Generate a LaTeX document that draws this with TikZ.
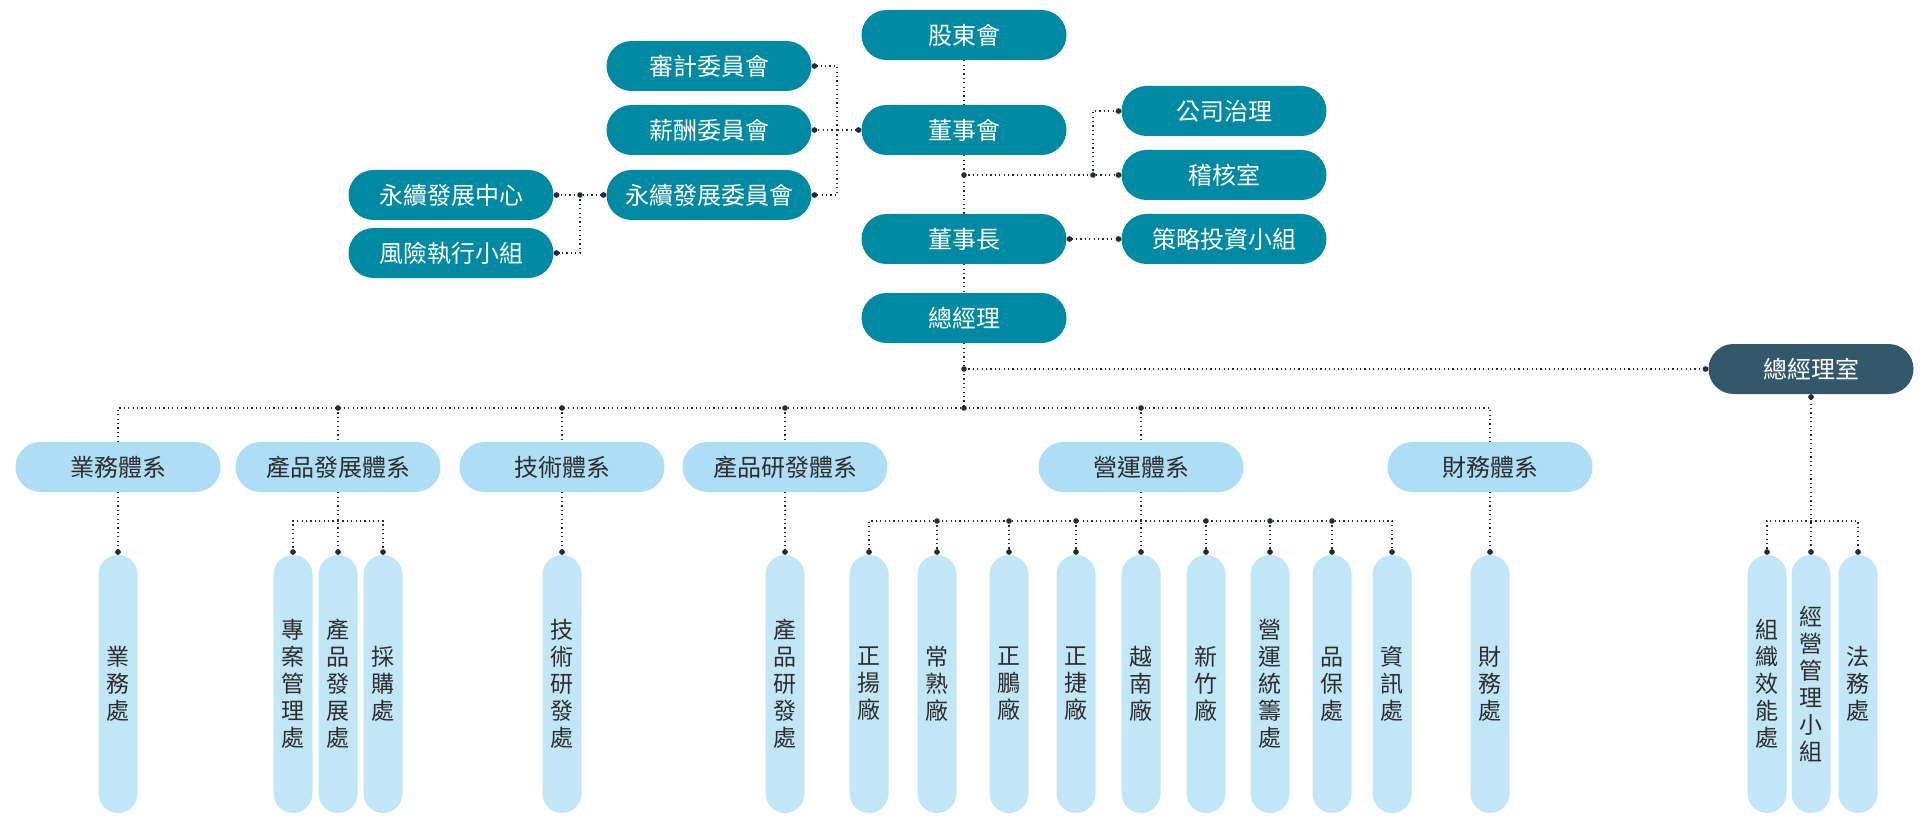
\documentclass[tikz,border=0pt]{standalone}
\usepackage{fontspec}
\usepackage{xcolor}
\usepackage{tikz}
\usetikzlibrary{arrows.meta}
\newfontfamily\tcfont{Noto Sans CJK TC}
\definecolor{tealc}{RGB}{0,137,163}
\definecolor{slatec}{RGB}{52,88,107}
\definecolor{sysc}{RGB}{174,222,245}
\definecolor{unitc}{RGB}{193,230,248}
\definecolor{textc}{RGB}{45,45,45}
\definecolor{linec}{RGB}{38,44,54}
\tikzset{
	topbox/.style={rectangle,rounded corners=25pt,fill=tealc,text=white,minimum width=205pt,minimum height=50pt,inner sep=0pt,font=\tcfont\fontsize{24}{28}\selectfont},
	officebox/.style={topbox,fill=slatec},
	sysbox/.style={topbox,fill=sysc,text=textc},
	unitbox/.style={rectangle,rounded corners=19.5pt,fill=unitc,text=textc,minimum width=39pt,minimum height=258pt,inner sep=0pt,align=center,font=\tcfont\fontsize{23}{27}\selectfont},
	link/.style={draw=linec,line width=1.3pt,dash pattern=on 1.2pt off 3.2pt},
	dotend/.style={-{Circle[length=5.6pt]}},
	dotstart/.style={{Circle[length=5.6pt]}-},
	dotboth/.style={{Circle[length=5.6pt]}-{Circle[length=5.6pt]}}
}
\begin{document}
\begin{tikzpicture}[x=1pt,y=-1pt]
	\useasboundingbox[fill=white] (0,0) rectangle (1920,829);
	\node[topbox] (gd) at (964,35) {股東會};
	\node[topbox] (ds) at (964,130) {董事會};
	\node[topbox] (dz) at (964,239) {董事長};
	\node[topbox] (gm) at (964,318) {總經理};
	\node[topbox] (au) at (709,66) {審計委員會};
	\node[topbox] (rc) at (709,130) {薪酬委員會};
	\node[topbox] (sc) at (709,195) {永續發展委員會};
	\node[topbox] (sd) at (451,195) {永續發展中心};
	\node[topbox] (rk) at (451,253) {風險執行小組};
	\node[topbox] (cg) at (1224,111) {公司治理};
	\node[topbox] (ia) at (1224,175) {稽核室};
	\node[topbox] (si) at (1224,239) {策略投資小組};
	\node[officebox] (go) at (1811,369) {總經理室};

	\node[sysbox] (s1) at (118,467) {業務體系};
	\node[sysbox] (s2) at (338,467) {產品發展體系};
	\node[sysbox] (s3) at (562,467) {技術體系};
	\node[sysbox] (s4) at (785,467) {產品研發體系};
	\node[sysbox] (s5) at (1141,467) {營運體系};
	\node[sysbox] (s6) at (1490,467) {財務體系};

	\node[unitbox] (u1) at (118,684) {業\\務\\處};
	\node[unitbox] (u2) at (293,684) {專\\案\\管\\理\\處};
	\node[unitbox] (u3) at (338,684) {產\\品\\發\\展\\處};
	\node[unitbox] (u4) at (383,684) {採\\購\\處};
	\node[unitbox] (u5) at (562,684) {技\\術\\研\\發\\處};
	\node[unitbox] (u6) at (785,684) {產\\品\\研\\發\\處};
	\node[unitbox] (o1) at (869,684) {正\\揚\\廠};
	\node[unitbox] (o2) at (937,684) {常\\熟\\廠};
	\node[unitbox] (o3) at (1009,684) {正\\鵬\\廠};
	\node[unitbox] (o4) at (1076,684) {正\\捷\\廠};
	\node[unitbox] (o5) at (1141,684) {越\\南\\廠};
	\node[unitbox] (o6) at (1206,684) {新\\竹\\廠};
	\node[unitbox] (o7) at (1270,684) {營\\運\\統\\籌\\處};
	\node[unitbox] (o8) at (1332,684) {品\\保\\處};
	\node[unitbox] (o9) at (1392,684) {資\\訊\\處};
	\node[unitbox] (u7) at (1490,684) {財\\務\\處};
	\node[unitbox] (g1) at (1767,684) {組\\織\\效\\能\\處};
	\node[unitbox] (g2) at (1811,684) {經\\營\\管\\理\\小\\組};
	\node[unitbox] (g3) at (1858,684) {法\\務\\處};

	\coordinate (j1) at (964,175);
	\coordinate (j2) at (1093,175);
	\coordinate (j3) at (837,130);
	\coordinate (j4) at (580,195);
	\coordinate (j5) at (964,369);
	\coordinate (j6) at (964,408);
	\coordinate (b1) at (338,521);
	\coordinate (b2) at (1141,521);
	\coordinate (b3) at (1811,521);

	\draw[link] (gd) -- (ds);
	\draw[link] (ds) -- (dz);
	\draw[link] (dz) -- (gm);
	\draw[link,dotend] (j1) -- (ia.west);
	\draw[link,dotend] (j2) |- (cg.west);
	\fill[linec] (j1) circle (2.8pt);
	\fill[linec] (j2) circle (2.8pt);
	\draw[link,dotstart] (ds.west) -- (j3);
	\draw[link,dotend] (j3) |- (au.east);
	\draw[link,dotend] (j3) -- (rc.east);
	\draw[link,dotend] (j3) |- (sc.east);
	\draw[link,dotboth] (sc.west) -- (sd.east);
	\draw[link,dotend] (j4) |- (rk.east);
	\fill[linec] (j4) circle (2.8pt);
	\draw[link,dotboth] (dz.east) -- (si.west);

	\draw[link] (gm) -- (j6);
	\draw[link,dotend] (j5) -- (go.west);
	\fill[linec] (j5) circle (2.8pt);
	\fill[linec] (j6) circle (2.8pt);
	\draw[link] (s1.north) |- (j6) -| (s6.north);
	\draw[link] (s2.north |- j6) -- (s2.north);
	\draw[link] (s3.north |- j6) -- (s3.north);
	\draw[link] (s4.north |- j6) -- (s4.north);
	\draw[link] (s5.north |- j6) -- (s5.north);
	\fill[linec] (s2.north |- j6) circle (2.8pt);
	\fill[linec] (s3.north |- j6) circle (2.8pt);
	\fill[linec] (s4.north |- j6) circle (2.8pt);
	\fill[linec] (s5.north |- j6) circle (2.8pt);

	\draw[link,dotend] (s1.south) -- (u1.north);
	\draw[link,dotend] (s2.south) -- (u3.north);
	\draw[link,dotend] (b1) -| (u2.north);
	\draw[link,dotend] (b1) -| (u4.north);
	\draw[link,dotend] (s3.south) -- (u5.north);
	\draw[link,dotend] (s4.south) -- (u6.north);
	\draw[link,dotend] (s5.south) -- (o5.north);
	\draw[link,dotend] (b2) -| (o1.north);
	\draw[link,dotend] (b2) -| (o9.north);
	\draw[link,dotend] (o2.north |- b2) -- (o2.north);
	\draw[link,dotend] (o3.north |- b2) -- (o3.north);
	\draw[link,dotend] (o4.north |- b2) -- (o4.north);
	\draw[link,dotend] (o6.north |- b2) -- (o6.north);
	\draw[link,dotend] (o7.north |- b2) -- (o7.north);
	\draw[link,dotend] (o8.north |- b2) -- (o8.north);
	\fill[linec] (o2.north |- b2) circle (2.8pt);
	\fill[linec] (o3.north |- b2) circle (2.8pt);
	\fill[linec] (o4.north |- b2) circle (2.8pt);
	\fill[linec] (o6.north |- b2) circle (2.8pt);
	\fill[linec] (o7.north |- b2) circle (2.8pt);
	\fill[linec] (o8.north |- b2) circle (2.8pt);
	\draw[link,dotend] (s6.south) -- (u7.north);
	\draw[link,dotboth] (go.south) -- (g2.north);
	\draw[link,dotend] (b3) -| (g1.north);
	\draw[link,dotend] (b3) -| (g3.north);
\end{tikzpicture}
\end{document}
